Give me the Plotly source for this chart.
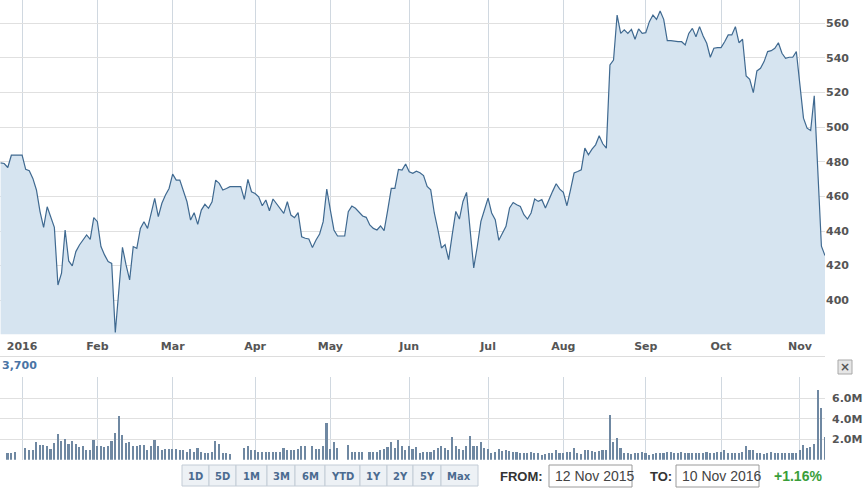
import pandas as pd
import plotly.graph_objects as go

# one value per weekday, 24 Dec 2015 .. 10 Nov 2016
start_day = "2015-12-24"
end_day = "2016-11-10"
days = pd.bdate_range(start_day, end_day)

close = [
    479.4, 479.0, 476.7, 483.8, 483.8, 483.8, 483.8, 475.6, 474.8, 470.4,
    463.7, 451.2, 442.1, 454.0, 448.3, 442.1, 408.8, 415.6, 440.6, 422.7,
    419.8, 428.1, 431.9, 435.2, 437.7, 435.2, 447.7, 445.4, 431.0, 426.2,
    422.3, 421.3, 381.3, 406.0, 430.6, 420.4, 411.7, 431.0, 430.0, 441.5,
    445.4, 441.5, 450.2, 458.8, 448.3, 456.0, 460.8, 464.6, 472.9, 469.4,
    469.4, 463.3, 456.9, 446.3, 450.6, 443.8, 452.1, 455.4, 453.1, 456.9,
    469.4, 467.5, 463.7, 464.6, 465.6, 465.6, 465.6, 465.6, 458.3, 469.8,
    462.7, 461.7, 459.8, 454.6, 457.9, 451.7, 458.5, 455.6, 452.5, 450.2,
    456.9, 449.2, 447.7, 450.6, 436.7, 435.8, 435.4, 430.4, 434.8, 438.3,
    445.4, 464.2, 452.1, 440.6, 437.1, 437.1, 437.1, 451.2, 454.4, 453.1,
    451.0, 448.7, 447.9, 443.5, 441.5, 440.6, 442.9, 440.2, 452.1, 464.6,
    464.6, 475.6, 475.2, 478.7, 474.2, 473.3, 474.6, 473.7, 472.0, 465.7,
    463.8, 450.4, 440.8, 430.2, 432.1, 423.5, 437.9, 451.3, 446.9, 457.1,
    462.3, 440.8, 418.7, 431.2, 445.6, 452.3, 459.0, 450.4, 446.5, 434.6,
    438.8, 442.7, 453.3, 456.5, 455.2, 454.2, 449.4, 446.9, 450.4, 458.5,
    457.1, 458.1, 453.3, 458.5, 462.9, 467.3, 464.2, 462.3, 454.6, 463.8,
    473.5, 474.4, 475.4, 487.9, 484.0, 487.3, 489.8, 495.0, 490.4, 487.9,
    536.0, 538.8, 564.8, 554.2, 556.2, 554.2, 556.5, 550.8, 556.8, 554.2,
    554.6, 561.0, 564.8, 562.3, 567.1, 562.3, 550.0, 550.0, 549.6, 549.4,
    549.4, 547.5, 554.2, 557.1, 552.3, 558.1, 552.7, 548.5, 540.4, 545.6,
    546.0, 546.0, 549.4, 553.3, 553.3, 558.1, 548.8, 550.8, 529.6, 527.7,
    520.0, 532.5, 534.0, 537.9, 543.7, 544.2, 545.6, 548.8, 542.7, 539.8,
    540.4, 540.4, 543.7, 523.5, 505.2, 499.4, 498.1, 518.1, 475.0, 431.2,
    425.8,
]

# volume in millions, None where the exchange was closed
volume_m = [
    None, None, 0.62, 0.62, 0.78, None, None, 1.10, 0.88, 0.88,
    1.69, 1.43, 1.37, 1.27, 1.04, 1.59, 2.47, 1.76, 1.98, 1.53,
    1.85, 1.50, 1.20, 1.27, 0.94, 0.94, 1.92, 1.27, 1.33, 1.20,
    1.33, 1.76, 2.57, 4.20, 2.40, 1.59, 1.66, 1.33, 1.33, 1.37,
    1.43, 0.94, 1.27, 1.92, 1.27, 0.94, 1.04, 1.04, 1.04, 1.04,
    0.91, 0.88, 0.78, 1.00, 0.78, 1.10, 0.78, 0.68, 0.59, 0.70,
    1.82, 1.50, 0.68, 0.62, 0.55, None, None, None, 1.17, 1.33,
    0.88, 0.88, 0.78, 0.78, 0.78, 0.78, 0.72, 0.78, 0.78, 1.10,
    0.94, 0.94, 0.94, 1.00, 1.27, 1.33, None, 1.33, 1.00, 1.00,
    1.27, 3.55, 1.00, 1.66, 1.10, None, None, 1.43, 0.78, 0.72,
    0.78, 0.78, None, 0.78, 0.78, 0.78, 0.94, 1.00, 1.20, 1.66,
    1.10, 1.92, 1.27, 0.94, 1.33, 1.00, 1.20, 0.68, 0.72, 0.72,
    0.78, 0.88, 1.17, 1.27, 1.17, 0.94, 2.18, 1.33, 1.00, 0.94,
    1.33, 2.34, 1.33, 1.27, 1.66, 1.17, 1.00, 0.68, 0.72, 1.00,
    0.85, 0.88, 0.85, 0.72, 0.78, 0.62, 0.62, 0.62, 0.72, 0.68,
    0.62, 0.46, 0.55, 0.62, 0.62, 0.88, 0.62, 0.62, 0.78, 0.78,
    1.10, 0.62, 0.55, 0.94, 0.88, 0.85, 0.78, 0.85, 0.88, 0.88,
    4.36, 1.69, 2.05, 1.10, 0.68, 0.62, 0.55, 0.68, 0.68, 0.78,
    0.62, 0.46, 0.55, 0.68, 0.62, 0.68, 0.78, 0.78, 0.68, 0.68,
    0.78, 0.62, 0.62, 0.62, 0.62, 0.62, 0.62, 0.78, 0.62, 0.68,
    0.78, 0.78, 0.88, 0.68, 0.68, 0.68, 0.68, 0.78, 1.33, 0.94,
    0.88, 0.62, 0.62, 0.55, 0.62, 0.78, 0.62, 0.62, 0.68, 0.68,
    0.62, 0.68, 0.68, 0.94, 1.43, 1.10, 1.20, 1.53, 6.80, 5.00,
    2.24,
]

month_ticks = ["2016-01-01", "2016-02-01", "2016-03-01", "2016-04-01",
               "2016-05-02", "2016-06-01", "2016-07-01", "2016-08-01",
               "2016-09-01", "2016-09-30", "2016-11-01"]
month_labels = ["2016", "Feb", "Mar", "Apr", "May", "Jun", "Jul", "Aug",
                "Sep", "Oct", "Nov"]
price_ticks = [400, 420, 440, 460, 480, 500, 520, 540, 560]
vol_ticks = [2, 4, 6, 8]
vol_labels = ["2.0M", "4.0M", "6.0M", ""]
range_buttons = ["1D", "5D", "1M", "3M", "6M", "YTD", "1Y", "2Y", "5Y", "Max"]
button_edges = [182, 209, 236, 267, 295, 325, 360, 387, 413, 441, 478]
from_date = "12 Nov 2015"
to_date = "10 Nov 2016"
change_text = "+1.16%"

W, H = 863, 491


def px(v):
    return v / W


def py(v):
    return 1 - v / H


axis_font = dict(family="DejaVu Sans", size=11, color="#555555", weight="bold")
x_range = ["2015-12-23 20:00", "2016-11-10 00:00"]
breaks = [dict(bounds=["sat", "mon"])]

fig = go.Figure()
fig.add_trace(go.Scatter(
    x=days, y=close, mode="lines",
    line=dict(color="#3f6990", width=1.2),
    fill="tozeroy", fillcolor="#d6e4f0",
    xaxis="x", yaxis="y", hoverinfo="skip",
))
fig.add_trace(go.Bar(
    x=days, y=volume_m, width=0.45 * 86400000,
    marker=dict(color="#6f88a2", line=dict(width=0)),
    xaxis="x2", yaxis="y2", hoverinfo="skip",
))

fig.update_layout(
    template="none",
    width=W, height=H,
    margin=dict(l=0, r=0, t=0, b=0),
    paper_bgcolor="white", plot_bgcolor="white",
    showlegend=False,
    bargap=0,
    xaxis=dict(
        domain=[0, px(825)], anchor="y", type="date", range=x_range,
        rangebreaks=breaks, tickmode="array", tickvals=month_ticks,
        ticktext=month_labels, tickfont=axis_font, ticks="",
        ticklabelstandoff=4,
        showgrid=True, gridcolor="#d0d8e0", gridwidth=1,
        zeroline=False, showline=False, automargin=False,
    ),
    yaxis=dict(
        domain=[py(334.3), 1], anchor="x", range=[380.3, 573.5],
        side="right", tickmode="array", tickvals=price_ticks,
        tickfont=axis_font, ticks="", showgrid=True, gridcolor="#e0e0e0",
        zeroline=False, showline=False, automargin=False,
    ),
    xaxis2=dict(
        domain=[0, px(825)], anchor="y2", type="date", range=x_range,
        rangebreaks=breaks, tickmode="array", tickvals=month_ticks,
        showticklabels=False, ticks="", showgrid=True, gridcolor="#d0d8e0",
        zeroline=False, showline=False, automargin=False,
    ),
    yaxis2=dict(
        domain=[py(459.8), py(377.3)], anchor="x2", range=[0, 8.05],
        side="right", tickmode="array", tickvals=vol_ticks,
        ticktext=vol_labels, tickfont=axis_font, ticks="",
        ticklabelstandoff=6, showgrid=True, gridcolor="#e0e0e0",
        zeroline=False, showline=False, automargin=False,
    ),
)

shapes = [
    dict(type="line", xref="paper", yref="paper", x0=0, x1=px(825),
         y0=py(356.5), y1=py(356.5), line=dict(color="#dddddd", width=1)),
    dict(type="rect", xref="paper", yref="paper", x0=px(838), x1=px(852),
         y0=py(374), y1=py(360), fillcolor="#e6e6e6",
         line=dict(color="#a8a8a8", width=1)),
]
annotations = [
    dict(text="3,700", x=0, y=py(365), xref="paper", yref="paper",
         xanchor="left", yanchor="middle", showarrow=False,
         font=dict(family="DejaVu Sans", size=11, color="#4a74a5",
                   weight="bold")),
    dict(text="×", x=px(845), y=py(367), xref="paper", yref="paper",
         xanchor="center", yanchor="middle", showarrow=False,
         font=dict(family="DejaVu Sans", size=12, color="#555555",
                   weight="bold")),
]

for i, label in enumerate(range_buttons):
    left, right = button_edges[i], button_edges[i + 1]
    shapes.append(dict(
        type="rect", xref="paper", yref="paper", x0=px(left), x1=px(right),
        y0=py(486), y1=py(465), fillcolor="#edf1f5",
        line=dict(color="#c3ccd6", width=1)))
    annotations.append(dict(
        text=label, x=px((left + right) / 2), y=py(476), xref="paper",
        yref="paper", xanchor="center", yanchor="middle", showarrow=False,
        font=dict(family="DejaVu Sans", size=10, color="#4b6b90",
                  weight="bold")))

label_font = dict(family="Liberation Sans", size=13, color="#333333",
                  weight="bold")
box_font = dict(family="Liberation Sans", size=14, color="#444444")
for label, lx, box_left, box_right, value in [
        ("FROM:", 498, 549, 632, from_date),
        ("TO:", 648, 676, 759, to_date)]:
    annotations.append(dict(
        text=label, x=px(lx), y=py(476), xref="paper", yref="paper",
        xanchor="left", yanchor="middle", showarrow=False, font=label_font))
    shapes.append(dict(
        type="rect", xref="paper", yref="paper", x0=px(box_left),
        x1=px(box_right), y0=py(487), y1=py(465), fillcolor="white",
        line=dict(color="#9a9a9a", width=1)))
    annotations.append(dict(
        text=value, x=px(box_left + 4), y=py(476), xref="paper",
        yref="paper", xanchor="left", yanchor="middle", showarrow=False,
        font=box_font))

annotations.append(dict(
    text=change_text, x=px(772), y=py(476), xref="paper", yref="paper",
    xanchor="left", yanchor="middle", showarrow=False,
    font=dict(family="Liberation Sans", size=14, color="#3a9e3a",
              weight="bold")))

fig.update_layout(shapes=shapes, annotations=annotations)

# the page body has a default 8px margin; drop it so the chart sits at 0,0
fig.write_html(
    "out.html",
    config={"displayModeBar": False},
    post_script="document.body.style.margin='0';",
)
